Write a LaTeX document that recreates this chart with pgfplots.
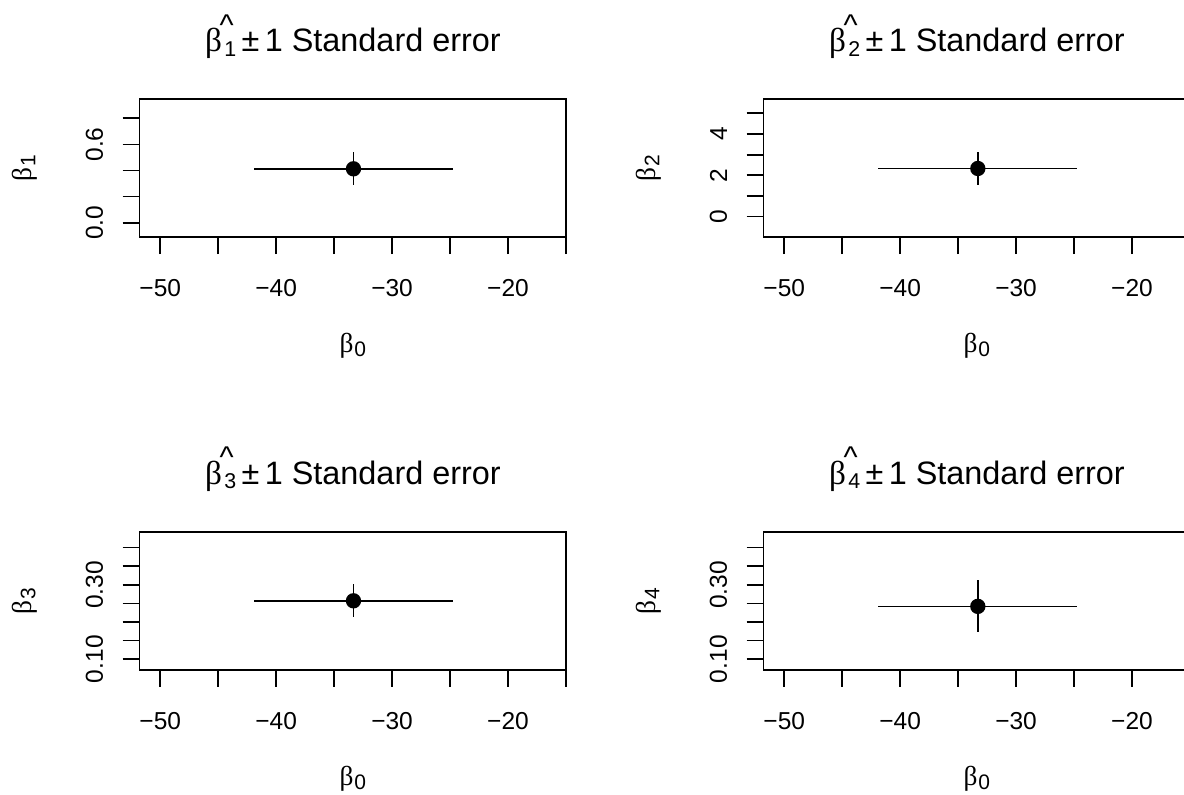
\documentclass[border=0pt]{standalone}
\usepackage{fontspec}
\setmainfont{Liberation Sans}
\newfontfamily\grk{Liberation Serif}
\usepackage{pgfplots}
\pgfplotsset{compat=1.18}

\newcommand\bl[1]{{\grk\fontsize{13.7}{13.7}\selectfont β}\kern0.4pt\raisebox{-1.9pt}{\fontsize{10.5}{10.5}\selectfont #1}}
\newcommand\hb[1]{{\grk\fontsize{16.6}{16.6}\selectfont β}\rlap{\kern-1.2pt\raisebox{8.3pt}{\fontsize{15}{15}\selectfont\symbol{"5E}}}\kern1.2pt\raisebox{-2.2pt}{\fontsize{10.7}{10.7}\selectfont #1}}

\pgfplotsset{
  panel/.style={
    scale only axis, width=213.4pt, height=69pt,
    xmin=-51.79, xmax=-14.97,
    axis line style={line width=0.85pt},
    every tick/.style={line width=0.85pt, black},
    tick align=outside, major tick length=8.4pt, tick pos=left,
    xtick={-50,-45,...,-15}, xticklabels={−50,,−40,,−30,,−20,},
    xticklabel style={inner sep=0pt, anchor=north, font=\fontsize{12.25}{12.25}\selectfont},
    yticklabel style={inner sep=0pt, anchor=south, rotate=90, font=\fontsize{12.25}{12.25}\selectfont},
    xticklabel shift=12.45pt,
    yticklabel shift=9.6pt,
    every axis title/.style={at={([yshift=23.8pt]axis description cs:0.5,1)}, anchor=base, font=\fontsize{16.2}{16.2}\selectfont, inner sep=0pt},
    every axis x label/.style={at={([yshift=-57.85pt]axis description cs:0.5,0)}, anchor=base, inner sep=0pt},
    every axis y label/.style={at={([xshift=-54pt]axis description cs:0,0.5)}, anchor=base, rotate=90, inner sep=0pt},
    xlabel={\bl{0}},
  },
  pt/.style={black, line width=0.85pt, mark=*, mark size=3.4pt, only marks,
    error bars/.cd, x dir=both, x explicit, y dir=both, y explicit, error mark=none,
    error bar style={line width=0.85pt, black}},
}

\begin{document}
\begin{tikzpicture}
\useasboundingbox (0,0) rectangle (592pt,397.5pt);

\begin{axis}[panel, at={(69.75pt,278.85pt)}, anchor=south west,
  ymin=-0.112, ymax=0.946, ytick={0,0.2,0.4,0.6,0.8}, yticklabels={0.0,,,0.6,},
  ylabel={\bl{1}}, title={\hb{1}\,±\,1 Standard error}]
\addplot[pt] coordinates {(-33.33,0.413) +- (8.57,0.126)};
\end{axis}

\begin{axis}[panel, at={(381.75pt,278.85pt)}, anchor=south west,
  ymin=-1.0, ymax=5.68, ytick={0,1,2,3,4,5}, yticklabels={0,,2,,4,},
  ylabel={\bl{2}}, title={\hb{2}\,±\,1 Standard error}]
\addplot[pt] coordinates {(-33.3,2.33) +- (8.57,0.80)};
\end{axis}

\begin{axis}[panel, at={(69.75pt,62.5pt)}, anchor=south west,
  ymin=0.071, ymax=0.442, ytick={0.10,0.15,0.20,0.25,0.30,0.35,0.40}, yticklabels={0.10,,,,0.30,,},
  ylabel={\bl{3}}, title={\hb{3}\,±\,1 Standard error}]
\addplot[pt] coordinates {(-33.33,0.257) +- (8.57,0.044)};
\end{axis}

\begin{axis}[panel, at={(381.75pt,62.5pt)}, anchor=south west,
  ymin=0.071, ymax=0.442, ytick={0.10,0.15,0.20,0.25,0.30,0.35,0.40}, yticklabels={0.10,,,,0.30,,},
  ylabel={\bl{4}}, title={\hb{4}\,±\,1 Standard error}]
\addplot[pt] coordinates {(-33.3,0.242) +- (8.57,0.070)};
\end{axis}
\end{tikzpicture}
\end{document}
